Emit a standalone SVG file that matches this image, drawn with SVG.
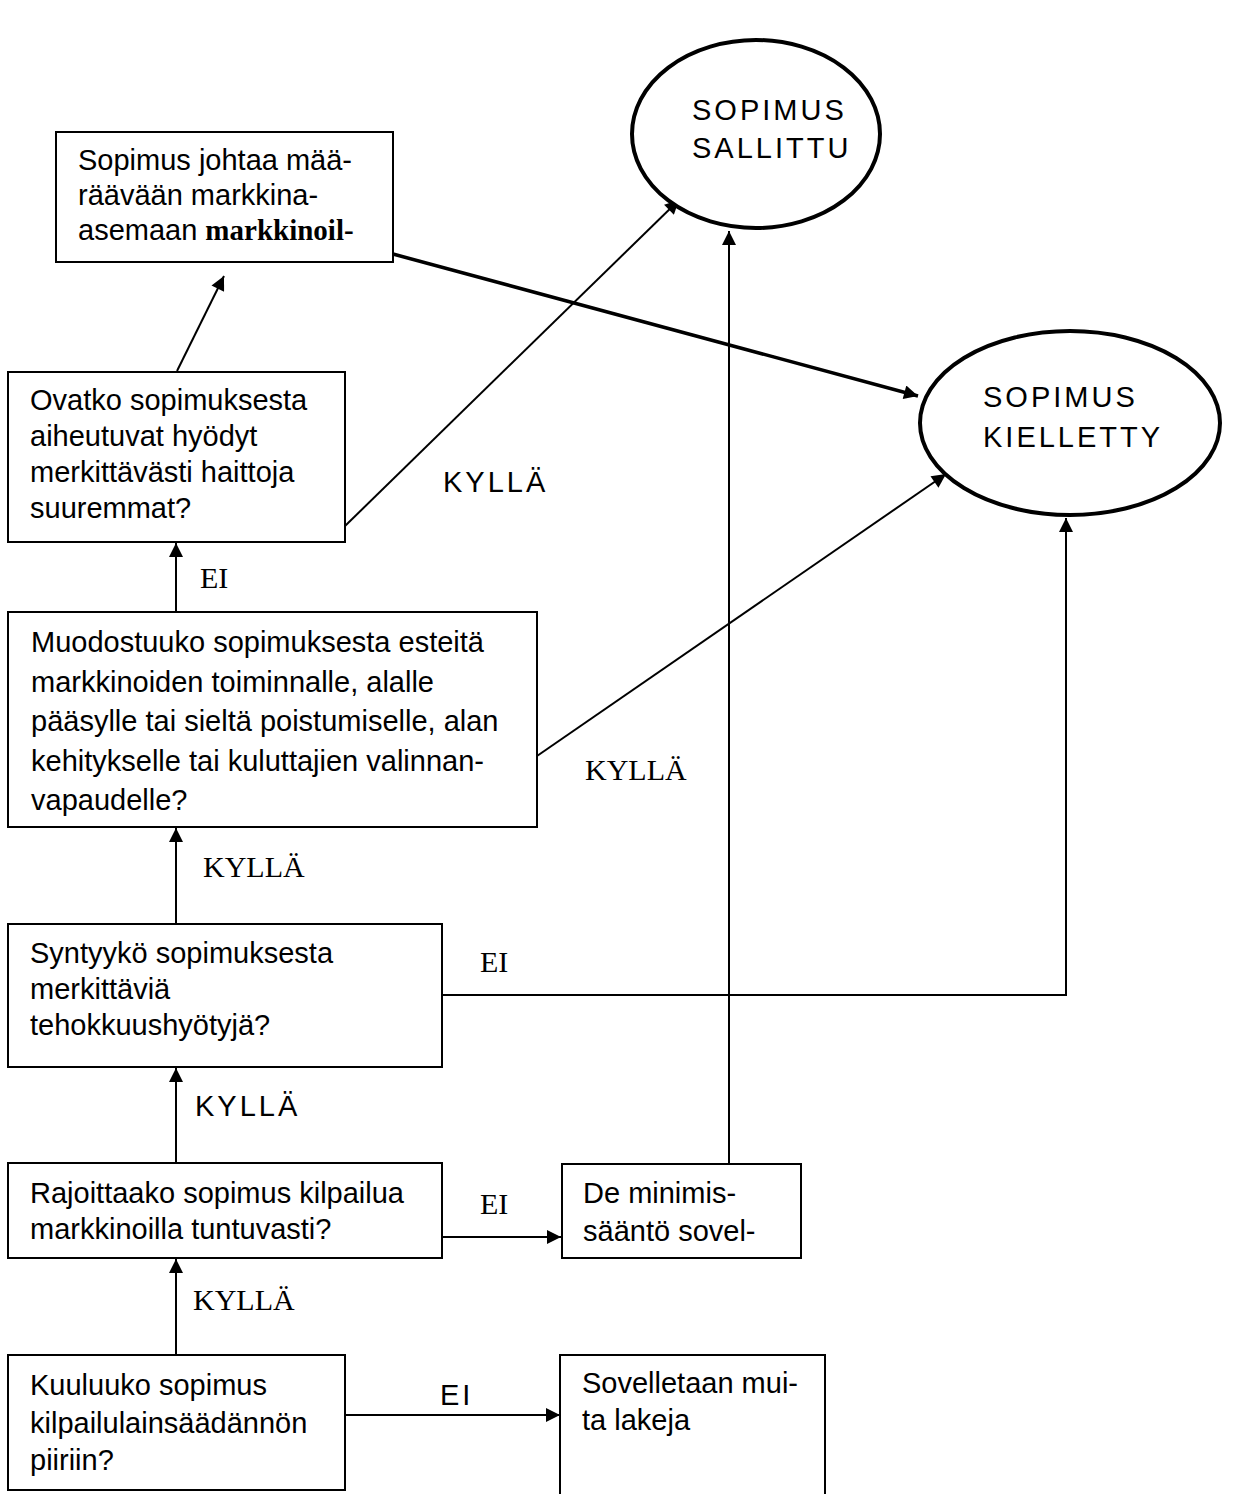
<svg xmlns="http://www.w3.org/2000/svg" width="1241" height="1494" viewBox="0 0 1241 1494">
<style>
.box{fill:#fff;stroke:#000;stroke-width:2}
.ell{fill:#fff;stroke:#000;stroke-width:4}
.t{font-family:"Liberation Sans",Arial,sans-serif;font-size:29px;fill:#000}
.b{font-family:"Liberation Serif","Times New Roman",serif;font-weight:bold}
.s{font-family:"Liberation Serif","Times New Roman",serif;font-size:30px;fill:#000}
.k{font-family:"Liberation Sans",Arial,sans-serif;font-size:29px;letter-spacing:3px;fill:#000}
.c{fill:none;stroke:#000;stroke-width:2}
.thick{stroke-width:3.5}
</style>
<defs>
<marker id="ah" viewBox="0 0 10 10" refX="10" refY="5" markerWidth="17" markerHeight="14" markerUnits="userSpaceOnUse" orient="auto">
<path d="M0,0 L10,5 L0,10 z" fill="#000"/>
</marker>
</defs>
<rect width="1241" height="1494" fill="#fff"/>
<g id="connectors">
<line class="c" x1="176" y1="1355" x2="176" y2="1259" marker-end="url(#ah)"/>
<line class="c" x1="176" y1="1163" x2="176" y2="1068" marker-end="url(#ah)"/>
<line class="c" x1="176" y1="924" x2="176" y2="828" marker-end="url(#ah)"/>
<line class="c" x1="176" y1="612" x2="176" y2="543" marker-end="url(#ah)"/>
<line class="c" x1="177" y1="371" x2="224" y2="276" marker-end="url(#ah)"/>
<line class="c" x1="345" y1="526" x2="679" y2="200" marker-end="url(#ah)"/>
<line class="c thick" x1="393" y1="254" x2="918" y2="396" marker-end="url(#ah)"/>
<line class="c" x1="537" y1="756" x2="946" y2="474" marker-end="url(#ah)"/>
<polyline class="c" points="442,995 1066,995 1066,518" marker-end="url(#ah)"/>
<line class="c" x1="442" y1="1237" x2="561" y2="1237" marker-end="url(#ah)"/>
<line class="c" x1="729" y1="1164" x2="729" y2="231" marker-end="url(#ah)"/>
<line class="c" x1="345" y1="1415" x2="560" y2="1415" marker-end="url(#ah)"/>
<text class="k" x="443" y="492">KYLLÄ</text>
<text class="s" x="200" y="588">EI</text>
<text class="s" x="585" y="780">KYLLÄ</text>
<text class="s" x="203" y="877">KYLLÄ</text>
<text class="s" x="480" y="972">EI</text>
<text class="k" x="195" y="1116">KYLLÄ</text>
<text class="s" x="480" y="1214">EI</text>
<text class="s" x="193" y="1310">KYLLÄ</text>
<text class="k" x="440" y="1405">EI</text>
</g>
<g id="sallittu">
<ellipse class="ell" cx="756" cy="134" rx="124" ry="94"/>
<text class="k" x="692" y="120">SOPIMUS</text>
<text class="k" x="692" y="158">SALLITTU</text>
</g>
<g id="kielletty">
<ellipse class="ell" cx="1070" cy="423" rx="150" ry="92"/>
<text class="k" x="983" y="407">SOPIMUS</text>
<text class="k" x="983" y="447">KIELLETTY</text>
</g>
<g id="n1">
<rect class="box" x="56" y="132" width="337" height="130"/>
<text class="t" x="78" y="170">Sopimus johtaa mää-</text>
<text class="t" x="78" y="205">räävään markkina-</text>
<text class="t" x="78" y="240">asemaan <tspan class="b">markkinoil-</tspan></text>
</g>
<g id="n2">
<rect class="box" x="8" y="372" width="337" height="170"/>
<text class="t" x="30" y="410">Ovatko sopimuksesta</text>
<text class="t" x="30" y="446">aiheutuvat hyödyt</text>
<text class="t" x="30" y="482">merkittävästi haittoja</text>
<text class="t" x="30" y="518">suuremmat?</text>
</g>
<g id="n3">
<rect class="box" x="8" y="612" width="529" height="215"/>
<text class="t" x="31" y="652">Muodostuuko sopimuksesta esteitä</text>
<text class="t" x="31" y="692">markkinoiden toiminnalle, alalle</text>
<text class="t" x="31" y="731">pääsylle tai sieltä poistumiselle, alan</text>
<text class="t" x="31" y="771">kehitykselle tai kuluttajien valinnan-</text>
<text class="t" x="31" y="810">vapaudelle?</text>
</g>
<g id="n4">
<rect class="box" x="8" y="924" width="434" height="143"/>
<text class="t" x="30" y="963">Syntyykö sopimuksesta</text>
<text class="t" x="30" y="999">merkittäviä</text>
<text class="t" x="30" y="1035">tehokkuushyötyjä?</text>
</g>
<g id="n5">
<rect class="box" x="8" y="1163" width="434" height="95"/>
<text class="t" x="30" y="1203">Rajoittaako sopimus kilpailua</text>
<text class="t" x="30" y="1239">markkinoilla tuntuvasti?</text>
</g>
<g id="n6">
<rect class="box" x="562" y="1164" width="239" height="94"/>
<text class="t" x="583" y="1203">De minimis-</text>
<text class="t" x="583" y="1241">sääntö sovel-</text>
</g>
<g id="n7">
<rect class="box" x="8" y="1355" width="337" height="135"/>
<text class="t" x="30" y="1395">Kuuluuko sopimus</text>
<text class="t" x="30" y="1433">kilpailulainsäädännön</text>
<text class="t" x="30" y="1470">piiriin?</text>
</g>
<g id="n8">
<rect class="box" x="560" y="1355" width="265" height="145"/>
<text class="t" x="582" y="1393">Sovelletaan mui-</text>
<text class="t" x="582" y="1430">ta lakeja</text>
</g>
</svg>
